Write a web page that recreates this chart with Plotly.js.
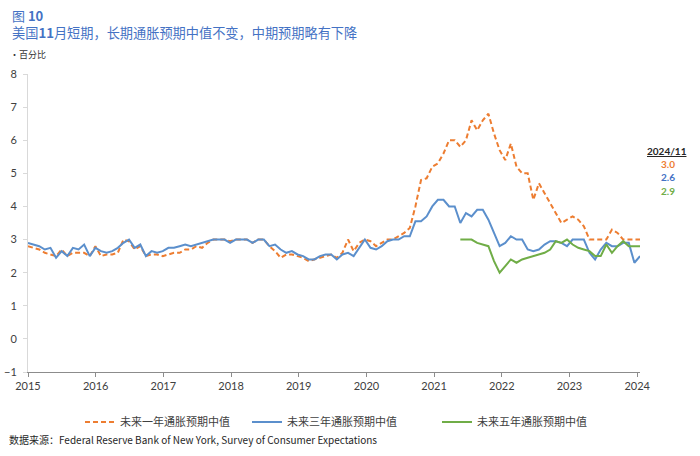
<!DOCTYPE html>
<html>
<head>
<meta charset="utf-8">
<script src="https://cdn.plot.ly/plotly-3.0.1.min.js"></script>
<style>html,body{margin:0;padding:0;background:#fff;}#chart{width:700px;height:456px;}</style>
</head>
<body>
<div id="chart"></div>
<script>
// Monthly medians (Aug 2015 onward), percent
const oneYear = [2.8,2.75,2.7,2.6,2.55,2.5,2.7,2.5,2.6,2.6,2.6,2.5,2.8,2.5,2.55,2.55,2.6,3.0,2.95,2.7,2.8,2.5,2.55,2.55,2.5,2.55,2.6,2.6,2.7,
  2.7,2.8,2.75,2.9,3.0,3.0,3.0,2.95,3.0,3.0,3.0,2.9,3.0,3.0,2.8,2.65,2.45,2.55,2.55,2.5,2.45,2.35,2.4,2.45,
  2.5,2.55,2.45,2.6,3.0,2.65,2.9,3.0,2.95,2.8,2.9,3.0,3.0,3.1,3.2,3.35,4.0,4.8,4.85,5.2,5.3,5.6,6.0,6.0,5.8,6.0,6.6,6.3,6.6,6.8,6.2,5.7,5.4,5.9,5.2,5.0,
  5.0,4.2,4.7,4.4,4.1,3.8,3.5,3.6,3.7,3.6,3.4,3.0,3.0,3.0,3.0,3.3,3.2,3.0,3.0,3.0,3.0];
const threeYear = [2.9,2.85,2.8,2.7,2.75,2.45,2.65,2.5,2.75,2.7,2.85,2.5,2.75,2.65,2.6,2.65,2.75,2.9,3.0,2.75,2.85,2.5,2.65,2.6,2.65,2.75,2.75,2.8,2.85,
  2.8,2.85,2.9,2.95,3.0,3.0,3.0,2.9,3.0,3.0,3.0,2.9,3.0,3.0,2.8,2.85,2.7,2.6,2.65,2.55,2.5,2.4,2.4,2.5,
  2.55,2.55,2.4,2.55,2.6,2.5,2.75,3.0,2.75,2.7,2.8,2.95,3.0,3.0,3.1,3.1,3.55,3.55,3.7,4.0,4.2,4.2,4.0,4.0,
  3.5,3.8,3.7,3.9,3.9,3.6,3.2,2.8,2.9,3.1,3.0,3.0,
  2.7,2.65,2.7,2.85,2.95,2.95,2.9,2.8,3.0,3.0,3.0,2.6,2.4,2.7,2.9,2.8,2.8,2.9,2.9,2.3,2.5];
const fiveYearStart = 77;
const fiveYear = [3.0,3.0,3.0,2.9,2.85,2.8,2.35,2.0,2.2,2.4,2.3,2.4,
  2.45,2.5,2.55,2.6,2.7,2.95,2.9,3.0,2.85,2.75,2.7,2.65,2.5,2.5,2.85,2.6,2.8,2.95,2.8,2.8,2.8];
const yearLabels = ['2015','2016','2017','2018','2019','2020','2021','2022','2023','2024'];
const seriesNames = ['未来一年通胀预期中值','未来三年通胀预期中值','未来五年通胀预期中值'];
const latestLabel = '2024/11';
const latestValues = ['3.0','2.6','2.9'];

const colors = ['#ED7D31','#5B8FCC','#70AD47'];
const idx = (n, s) => Array.from({length:n}, (_, i) => i + (s||0));
const nPts = oneYear.length;
const lastTickPos = 108.5;
const tickPos = yearLabels.map((_, k) => k * lastTickPos / (yearLabels.length - 1));

// pixel helpers
const L = 28, R = 640, T = 74, B = 372;
const px = x => (x - L) / (R - L);
const py = y => (B - y) / (B - T);

const cjk = '"Noto Sans CJK SC", "Noto Sans", sans-serif';
const latin = 'Lato, "Liberation Sans", sans-serif';

const traces = [
  {x: idx(nPts), y: oneYear, type:'scatter', mode:'lines', name: seriesNames[0],
   line:{color:colors[0], width:2, dash:'5px,3px'}, legend:'legend'},
  {x: idx(threeYear.length), y: threeYear, type:'scatter', mode:'lines', name: seriesNames[1],
   line:{color:colors[1], width:2}, legend:'legend2'},
  {x: idx(fiveYear.length, fiveYearStart), y: fiveYear, type:'scatter', mode:'lines', name: seriesNames[2],
   line:{color:colors[2], width:2}, legend:'legend3'}
];

const legBase = {orientation:'h', xanchor:'left', yanchor:'middle', bgcolor:'rgba(0,0,0,0)',
  font:{family:cjk, size:11, color:'#404040'}, xref:'paper', yref:'paper'};

const layout = {
  width:700, height:456,
  margin:{l:L, r:700-R, t:T, b:456-B, pad:0},
  paper_bgcolor:'#fff', plot_bgcolor:'#fff',
  font:{family:latin, color:'#404040'},
  title:{text:'图 <b>10</b>', x:12/700, xanchor:'left', y:1-16/456, yanchor:'middle',
    xref:'container', yref:'container', font:{family:cjk, size:13, color:'#4472C4'}},
  xaxis:{range:[0, nPts-1], tickvals:tickPos, ticktext:yearLabels, showgrid:false, zeroline:false,
    showline:true, linecolor:'#8c8c8c', linewidth:1, ticks:'outside', ticklen:4, tickcolor:'#8c8c8c',
    tickfont:{family:latin, size:11, color:'#404040'}, fixedrange:true},
  yaxis:{range:[-1, 8], dtick:1, tick0:0, showgrid:false, zeroline:false,
    showline:true, linecolor:'#d9d9d9', linewidth:1, ticks:'outside', ticklen:4, tickcolor:'#d9d9d9',
    tickfont:{family:latin, size:11, color:'#404040'}, ticklabelstandoff:4, fixedrange:true},
  showlegend:true,
  legend: Object.assign({}, legBase, {x:px(80), y:py(422)}),
  legend2: Object.assign({}, legBase, {x:px(247), y:py(422)}),
  legend3: Object.assign({}, legBase, {x:px(437), y:py(422)}),
  annotations:[
    {text:'美国<b>11</b>月短期，长期通胀预期中值不变，中期预期略有下降', xref:'paper', yref:'paper',
     x:px(10), y:py(33), xanchor:'left', yanchor:'middle', showarrow:false,
     font:{family:cjk, size:13.2, color:'#4472C4'}},
    {text:'•百分比', xref:'paper', yref:'paper', x:px(8), y:py(55), xanchor:'left', yanchor:'middle',
     showarrow:false, font:{family:cjk, size:9, color:'#333'}},
    {text:'<b><u>'+latestLabel+'</u></b>', xref:'paper', yref:'paper', x:px(667), y:py(151),
     xanchor:'center', yanchor:'middle', showarrow:false, font:{family:latin, size:10, color:'#262626'}},
    {text:'<b>'+latestValues[0]+'</b>', xref:'paper', yref:'paper', x:px(668), y:py(164),
     xanchor:'center', yanchor:'middle', showarrow:false, font:{family:latin, size:10, color:colors[0]}},
    {text:'<b>'+latestValues[1]+'</b>', xref:'paper', yref:'paper', x:px(668), y:py(177),
     xanchor:'center', yanchor:'middle', showarrow:false, font:{family:latin, size:10, color:'#4472C4'}},
    {text:'<b>'+latestValues[2]+'</b>', xref:'paper', yref:'paper', x:px(668), y:py(191),
     xanchor:'center', yanchor:'middle', showarrow:false, font:{family:latin, size:10, color:colors[2]}},
    {text:'数据来源：Federal Reserve Bank of New York, Survey of Consumer Expectations', xref:'paper', yref:'paper',
     x:px(7), y:py(439), xanchor:'left', yanchor:'middle', showarrow:false,
     font:{family:cjk, size:10, color:'#262626'}}
  ]
};

Plotly.newPlot('chart', traces, layout, {displayModeBar:false, staticPlot:true});
</script>
</body>
</html>
